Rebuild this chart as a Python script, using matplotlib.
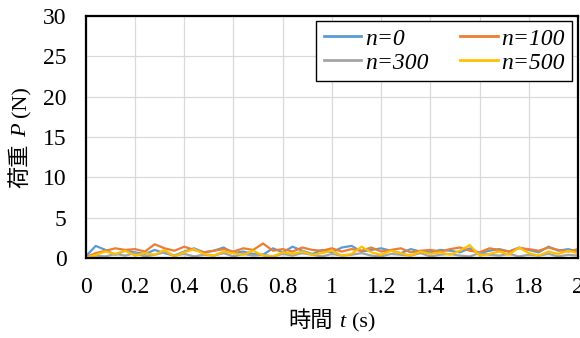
import numpy as np
import matplotlib
matplotlib.use("Agg")
import matplotlib.pyplot as plt

plt.rcParams['font.family'] = ['Liberation Serif', 'Noto Sans CJK JP']

t = np.round(np.arange(0, 2.0001, 0.04), 2)
series_labels = ["n=0", "n=100", "n=300", "n=500"]
p_n0 = [0.2,1.5,1.0,0.4,0.9,0.7,0.5,1.0,0.6,0.3,0.8,1.2,0.7,0.9,1.3,0.6,0.8,0.5,0.4,1.2,0.7,1.4,0.9,0.5,1.0,0.7,1.3,1.5,0.8,1.0,1.2,0.9,0.6,1.1,0.8,0.7,1.0,0.9,0.7,1.2,0.6,0.9,1.1,0.8,1.3,1.0,0.7,1.4,0.9,1.1,0.8]
p_n100 = [0.1,0.6,0.9,1.2,1.0,1.1,0.8,1.7,1.2,0.9,1.4,1.0,0.7,0.9,1.1,0.8,1.2,1.0,1.8,0.9,1.1,0.8,1.3,1.0,0.9,1.2,0.8,1.1,0.9,1.3,0.8,1.0,1.2,0.7,0.9,1.0,0.8,1.1,1.3,0.9,0.7,1.2,1.0,0.8,1.2,1.1,0.9,1.3,1.0,0.8,1.1]
p_n300 = [0.1,0.3,0.2,0.5,0.3,0.6,0.2,0.4,0.7,0.3,0.5,0.2,0.4,0.3,0.6,0.2,0.5,0.3,0.4,0.2,0.5,0.3,0.6,0.4,0.2,0.5,0.3,0.4,0.6,0.3,0.2,0.5,0.4,0.3,0.6,0.2,0.4,0.5,0.3,0.2,0.6,0.4,0.3,0.5,0.2,0.4,0.3,0.5,0.2,0.4,0.3]
p_n500 = [0.0,0.4,0.8,0.5,0.9,0.3,0.6,0.4,1.0,0.2,0.7,1.1,0.5,0.3,0.8,0.6,0.4,0.9,0.3,0.2,0.7,0.5,0.8,0.4,0.6,0.9,0.3,0.5,1.4,0.7,0.4,0.9,0.6,0.3,0.8,0.5,0.7,0.4,0.9,1.6,0.3,0.5,0.8,0.4,1.3,0.6,0.3,0.8,0.5,0.9,0.6]
x_ticks = [0, 0.2, 0.4, 0.6, 0.8, 1, 1.2, 1.4, 1.6, 1.8, 2]
x_tick_labels = ["0", "0.2", "0.4", "0.6", "0.8", "1", "1.2", "1.4", "1.6", "1.8", "2"]
y_ticks = [0, 5, 10, 15, 20, 25, 30]
xlabel_parts = [("時間", "normal"), ("t", "italic"), ("(s)", "normal")]
ylabel_parts = [("荷重", "normal"), ("P", "italic"), ("(N)", "normal")]

colors = ["#5B9BD5", "#ED7D31", "#A5A5A5", "#FFC000"]

W, H, DPI = 5.8, 3.38, 100
fig = plt.figure(figsize=(W, H), dpi=DPI)
ax = fig.add_axes([0.148, 0.2367, 0.8486, 0.716])

lines = []
for y, c, lab in zip([p_n0, p_n100, p_n300, p_n500], colors, series_labels):
    ln, = ax.plot(t, y, color=c, lw=1.6, label=lab)
    lines.append(ln)

ax.set_xlim(0, 2)
ax.set_ylim(0, 30)
ax.set_xticks(x_ticks)
ax.set_xticklabels(x_tick_labels)
ax.set_yticks(y_ticks)
ax.tick_params(axis='both', length=0, labelsize=17, pad=14)
ax.grid(True, color="#D9D9D9", lw=0.9)
ax.set_axisbelow(True)
for s in ax.spines.values():
    s.set_color("black")
    s.set_linewidth(1.6)

# legend: row-wise order n=0, n=100 / n=300, n=500
order = [0, 2, 1, 3]
leg = ax.legend([lines[i] for i in order], [series_labels[i] for i in order],
                ncol=2, loc="upper right", bbox_to_anchor=(0.988, 0.979),
                fancybox=False, framealpha=1, edgecolor="black",
                prop={'family': 'Liberation Serif', 'style': 'italic', 'size': 17},
                handlelength=1.6, handletextpad=0.15, columnspacing=1.35,
                borderpad=0.3, labelspacing=0.1, borderaxespad=0)
leg.get_frame().set_linewidth(1.0)
for h in leg.get_lines():
    h.set_linewidth(2.0)

# axis labels composed of parts (CJK + italic symbol)
LFS = 16
gap_px = 0.3 * LFS * DPI / 72.0
renderer = fig.canvas.get_renderer()

def compose(parts, cx, cy, vertical):
    texts = []
    for s, st in parts:
        tx = fig.text(0, 0, s, fontsize=LFS, style=st,
                      rotation=90 if vertical else 0, rotation_mode='anchor',
                      ha='left', va='baseline', transform=None)
        texts.append(tx)
    sizes = []
    for tx in texts:
        bb = tx.get_window_extent(renderer)
        sizes.append(bb.height if vertical else bb.width)
    total = sum(sizes) + gap_px * (len(sizes) - 1)
    cur = (cy if vertical else cx) - total / 2.0
    for tx, sz in zip(texts, sizes):
        if vertical:
            tx.set_position((cx, cur))
        else:
            tx.set_position((cur, cy))
        cur += sz + gap_px

# pixel coordinates (origin bottom-left)
compose(xlabel_parts, 332, H * DPI - 327, vertical=False)
compose(ylabel_parts, 26, H * DPI - 137, vertical=True)

fig.savefig("out.png", dpi=DPI)
